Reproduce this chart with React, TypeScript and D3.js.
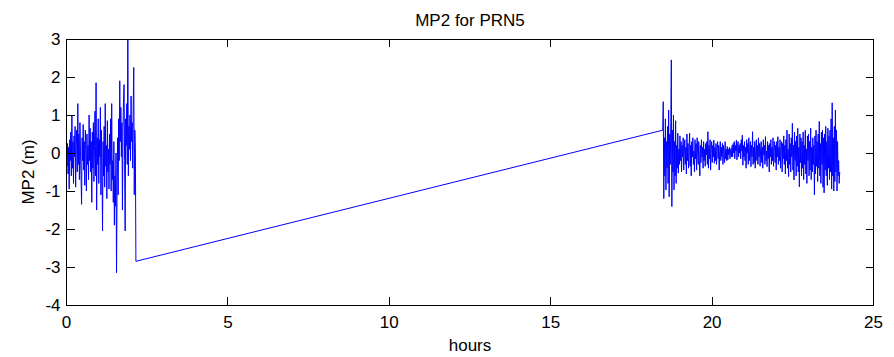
import React from "react";
import * as d3 from "d3";

const TITLE = "MP2 for PRN5";
const X_LABEL = "hours";
const Y_LABEL = "MP2 (m)";
const X_TICKS = [0, 5, 10, 15, 20, 25];
const Y_TICKS = [-4, -3, -2, -1, 0, 1, 2, 3];
const X_DOMAIN = [0, 25];
const Y_DOMAIN = [-4, 3];

// sampling: one value per minute
const SAMPLE_STEP_H = 1 / 60;
const SEG1_START_H = 0;
const SEG2_START_H = 18.47;

const seg1Values = [
  0.0, -0.35, 0.25, -0.55, 0.15, -0.95, 0.35, -0.2, 0.55, -0.6,
  1.0, -0.4, 0.3, -0.8, 0.45, -0.1, 0.7, -0.9, 0.2, 0.6,
  -0.5, 1.3, -0.3, 0.5, -0.7, 0.8, 0.0, -0.6, -1.35, 0.4,
  -0.2, 0.75, -0.45, 0.3, -0.85, 0.6, 0.1, -1.0, 0.5, -0.3,
  0.2, -0.7, 1.0, -0.2, 0.65, -0.5, 0.3, -1.3, 0.55, -0.4,
  0.8, -0.75, 0.2, 1.1, -0.6, 1.85, -1.5, 0.4, -0.3, 0.9,
  -0.8, 0.35, -0.1, 1.2, -1.1, 0.6, -0.45, -2.05, 0.3, -0.6,
  0.7, -0.9, 1.3, -0.35, 0.2, -1.2, 0.85, -0.5, 0.1, -0.95,
  0.5, -0.3, 0.9, -1.0, 1.3, -0.7, -0.2, -1.3, 0.3, -1.9,
  -0.6, -1.4, 0.0, -3.15, -0.8, 0.4, -1.1, 0.9, -0.2, 1.9,
  0.3, 1.2, -0.1, 0.8, -1.5, 0.6, 1.4, 1.8, -0.2, -2.05,
  0.9, 0.2, 1.3, -0.3, 3.4, -0.6, 0.7, 0.1, 1.0, -0.2,
  1.5, 0.3, 0.8, -0.4, 1.2, 2.25, -1.1, 0.6, 0.1, -2.85,
];

const seg2Values = [
  0.6, 1.35, -1.2, 0.4, -0.6, 0.9, -0.97, 0.3, -0.4, 0.7,
  -0.8, 1.13, -1.15, 0.5, -0.3, 0.8, 2.45, -1.41, 0.6, -0.5,
  1.0, -0.97, 0.3, -0.6, 0.85, -0.8, 0.2, -0.4, 0.52, -0.53,
  0.1, -0.3, 0.45, -0.2, 0.3, -0.5, 0.2, -0.1, 0.4, -0.45,
  0.0, 0.35, -0.3, 0.15, -0.55, 0.5, -0.2, 0.25, -0.4, 0.1,
  0.52, -0.35, 0.2, -0.6, 0.3, -0.1, 0.4, -0.3, 0.05, -0.5,
  0.35, -0.15, 0.25, -0.45, 0.4, 0.0, -0.3, 0.3, -0.2, -0.6,
  0.2, -0.25, 0.35, -0.1, 0.15, -0.4, 0.3, -0.2, 0.1, -0.35,
  0.25, -0.05, 0.3, -0.3, 0.56, -0.4, 0.2, -0.15, 0.35, -0.45,
  0.1, 0.3, -0.25, 0.2, -0.1, 0.34, -0.27, 0.15, -0.2, 0.25,
  -0.3, 0.1, 0.3, -0.15, 0.2, -0.45, 0.05, 0.3, -0.2, 0.15,
  -0.1, 0.25, -0.3, 0.2, 0.0, -0.25, 0.3, -0.15, 0.1, -0.2,
  0.17, -0.18, 0.1, -0.05, 0.15, -0.15, 0.05, 0.12, -0.1, 0.2,
  -0.1, 0.25, 0.0, 0.3, -0.15, 0.2, 0.05, 0.34, -0.18, 0.15,
  0.3, -0.1, 0.2, 0.0, 0.25, -0.15, 0.35, 0.05, 0.47, -0.32,
  0.2, -0.1, 0.3, -0.2, 0.15, -0.4, 0.35, 0.0, 0.25, -0.3,
  0.4, -0.2, 0.1, 0.3, -0.36, 0.2, -0.1, 0.56, -0.3, 0.15,
  -0.25, 0.3, -0.4, 0.1, 0.35, -0.2, 0.2, -0.3, 0.4, -0.1,
  0.25, -0.35, 0.1, 0.3, -0.25, 0.15, -0.4, 0.35, -0.05, 0.2,
  -0.3, 0.43, -0.2, 0.05, -0.36, 0.3, -0.15, 0.2, -0.5, 0.25,
  -0.1, 0.35, -0.3, 0.15, -0.2, 0.4, -0.35, 0.1, 0.3, -0.25,
  0.2, -0.45, 0.3, -0.1, 0.43, -0.3, 0.15, -0.2, 0.35, -0.4,
  0.1, 0.3, -0.5, 0.25, -0.15, 0.45, -0.3, 0.2, -0.55, 0.35,
  -0.2, 0.6, -0.4, 0.1, -0.62, 0.5, -0.3, 0.25, -0.5, 0.4,
  -0.1, 0.78, -0.45, 0.2, -0.71, 0.55, -0.2, 0.3, -0.6, 0.45,
  -0.35, 0.65, -0.5, 0.15, -0.89, 0.5, -0.25, 0.4, -0.6, 0.3,
  -0.4, 0.55, -0.7, 0.2, -0.3, 0.6, -0.55, 0.1, -0.8, 0.45,
  -0.2, 0.5, -0.6, 0.3, -0.45, 0.65, -0.7, 0.15, -0.5, 0.4,
  -0.3, 0.2, -1.1, 0.45, -0.55, 0.6, -0.35, 0.3, -0.75, 0.5,
  -0.4, 0.83, -0.6, 0.25, -0.8, 0.55, -0.3, 0.6, -0.9, 0.4,
  -1.05, 0.5, -0.45, 0.7, -0.6, 0.3, -0.85, 0.65, -0.4, 0.45,
  -0.7, 0.6, -0.5, 0.9, -0.95, 1.32, -0.6, 0.4, -1.0, 0.7,
  -0.75, 1.13, -0.5, 0.6, -1.0, 0.3, -0.6, -0.2, -0.8, -0.5,
];

const W = 894;
const H = 357;
const M = { left: 66.5, right: 894 - 873.5, top: 39, bottom: 357 - 305 };
const FONT = "'Liberation Sans', Arial, Helvetica, sans-serif";
const FS = 17;
const TICK = 8;

export default function App() {
  const x = d3.scaleLinear().domain(X_DOMAIN).range([M.left, W - M.right]);
  const y = d3.scaleLinear().domain(Y_DOMAIN).range([H - M.bottom, M.top]);

  const points: [number, number][] = [
    ...seg1Values.map((v, i) => [SEG1_START_H + i * SAMPLE_STEP_H, v] as [number, number]),
    ...seg2Values.map((v, i) => [SEG2_START_H + i * SAMPLE_STEP_H, v] as [number, number]),
  ];
  const line = d3
    .line<[number, number]>()
    .x((d) => x(d[0]))
    .y((d) => y(d[1]));

  const x0 = M.left;
  const x1 = W - M.right;
  const y0 = M.top;
  const y1 = H - M.bottom;

  return (
    <svg
      width={W}
      height={H}
      style={{ position: "absolute", left: 0, top: 0, background: "#fff" }}
      fontFamily={FONT}
      fontSize={FS}
    >
      <defs>
        <clipPath id="plotclip">
          <rect x={x0} y={y0} width={x1 - x0} height={y1 - y0} />
        </clipPath>
      </defs>
      <rect x={0} y={0} width={W} height={H} fill="#fff" />
      <path
        d={line(points) || ""}
        fill="none"
        stroke="#0000ff"
        strokeWidth={1}
        clipPath="url(#plotclip)"
      />
      <g stroke="#000" strokeWidth={1} fill="none" shapeRendering="crispEdges">
        <rect x={x0} y={y0} width={x1 - x0} height={y1 - y0} />
        {X_TICKS.map((t) => (
          <g key={"x" + t}>
            <line x1={x(t)} x2={x(t)} y1={y1} y2={y1 - TICK} />
            <line x1={x(t)} x2={x(t)} y1={y0} y2={y0 + TICK} />
          </g>
        ))}
        {Y_TICKS.map((t) => (
          <g key={"y" + t}>
            <line x1={x0} x2={x0 + TICK} y1={y(t)} y2={y(t)} />
            <line x1={x1} x2={x1 - TICK} y1={y(t)} y2={y(t)} />
          </g>
        ))}
      </g>
      <g fill="#000">
        {X_TICKS.map((t) => (
          <text key={"xl" + t} x={x(t)} y={y1 + 23} textAnchor="middle">
            {t}
          </text>
        ))}
        {Y_TICKS.map((t) => (
          <text key={"yl" + t} x={x0 - 6} y={y(t) + 6} textAnchor="end">
            {t}
          </text>
        ))}
        <text x={(x0 + x1) / 2} y={26} textAnchor="middle">
          {TITLE}
        </text>
        <text x={(x0 + x1) / 2} y={351} textAnchor="middle">
          {X_LABEL}
        </text>
        <text
          transform={`translate(34, ${(y0 + y1) / 2}) rotate(-90)`}
          textAnchor="middle"
        >
          {Y_LABEL}
        </text>
      </g>
    </svg>
  );
}
